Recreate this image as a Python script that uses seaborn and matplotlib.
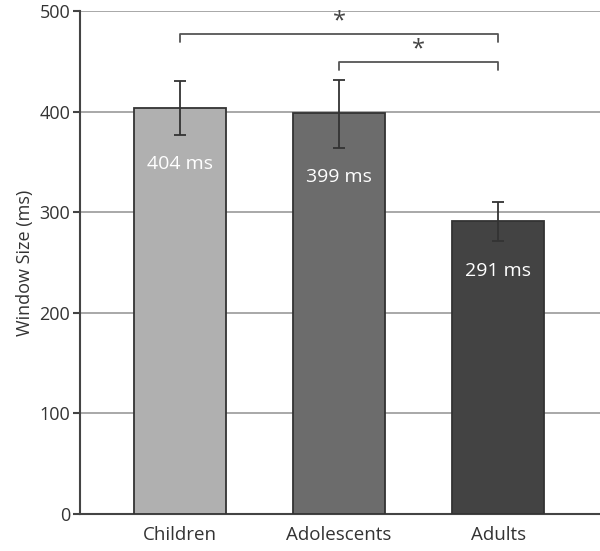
import matplotlib
matplotlib.use('Agg')
import matplotlib.pyplot as plt
import seaborn as sns
import pandas as pd

groups = ['Children', 'Adolescents', 'Adults']
window_ms = [404, 399, 291]
err_lo = [27, 35, 20]
err_hi = [26, 32, 19]
bar_colors = ['#b0b0b0', '#6c6c6c', '#434343']
labels = ['404 ms', '399 ms', '291 ms']
# significance pairs (group index a, group index b, bracket height)
sig_pairs = [(0, 2, 477), (1, 2, 449)]

sns.set_style('white')
plt.rcParams['font.family'] = ['Open Sans', 'DejaVu Sans']

df = pd.DataFrame({'group': groups, 'ms': window_ms})

fig = plt.figure(figsize=(6, 5.51), dpi=100)
ax = fig.add_axes([0.133, 0.067, 0.867, 0.913])

sns.barplot(data=df, x='group', y='ms', hue='group', palette=bar_colors,
            legend=False, width=0.58, edgecolor='#333333', linewidth=1.3,
            zorder=3, ax=ax)

xs = ax.get_xticks()
ax.errorbar(xs, window_ms, yerr=[err_lo, err_hi], fmt='none', ecolor='#333333',
            elinewidth=1.3, capsize=4, capthick=1.3, zorder=4)

for x, v, lo, lab in zip(xs, window_ms, err_lo, labels):
    ax.text(x, v - lo - 29, lab, color='white', ha='center', va='center',
            fontsize=14, zorder=5)

for a, b, h in sig_pairs:
    ax.plot([xs[a], xs[a], xs[b], xs[b]], [h - 8, h, h, h - 8],
            color='#555555', lw=1.3, zorder=4)
    ax.text((xs[a] + xs[b]) / 2, h + 1, '*', ha='center', va='bottom',
            fontsize=17, color='#444444')

ax.set_ylim(0, 500)
ax.set_xlim(-0.63, 2.64)
ax.set_yticks([0, 100, 200, 300, 400, 500])
ax.yaxis.grid(True, color='#9a9a9a', lw=1.2, zorder=0)
ax.set_axisbelow(True)
for s in ['top', 'right']:
    ax.spines[s].set_visible(False)
for s in ['left', 'bottom']:
    ax.spines[s].set_color('#444444')
    ax.spines[s].set_linewidth(1.5)
ax.tick_params(axis='y', left=True, length=5, width=1.5, color='#444444',
               labelsize=13, labelcolor='#333333', pad=2)
ax.tick_params(axis='x', bottom=False, labelsize=13.5, labelcolor='#333333', pad=5)
ax.set_xlabel('')
ax.set_ylabel('Window Size (ms)', fontsize=13, color='#333333', labelpad=4)

fig.savefig('out.png', dpi=100)
